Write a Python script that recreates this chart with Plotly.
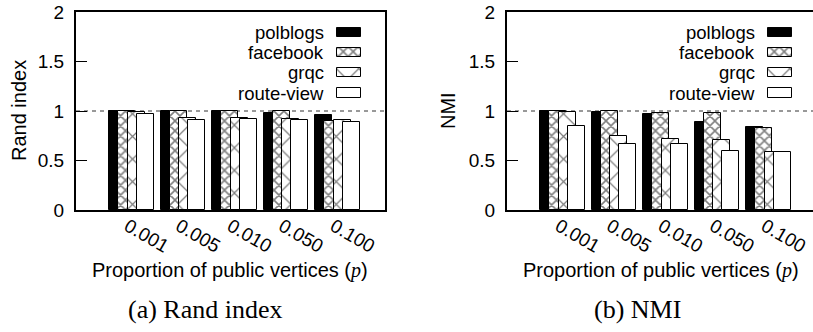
import plotly.graph_objects as go

# proportion of public vertices p
categories = ["0.001", "0.005", "0.010", "0.050", "0.100"]
series_names = ["polblogs", "facebook", "grqc", "route-view"]

# Rand index per dataset
rand_polblogs = [1.00, 1.00, 1.00, 0.98, 0.96]
rand_facebook = [1.00, 1.00, 1.00, 1.00, 0.90]
rand_grqc = [0.99, 0.93, 0.93, 0.92, 0.91]
rand_route_view = [0.97, 0.91, 0.915, 0.91, 0.89]

# NMI per dataset
nmi_polblogs = [1.00, 0.99, 0.97, 0.89, 0.84]
nmi_facebook = [1.00, 1.00, 0.98, 0.98, 0.83]
nmi_grqc = [0.99, 0.75, 0.72, 0.71, 0.585]
nmi_route_view = [0.845, 0.67, 0.665, 0.60, 0.59]

W, H = 813, 332
FONT = "Liberation Sans, Arial, sans-serif"
SERIF = "Liberation Serif, Times New Roman, serif"


def fx(p):
    return p / W


def fy(p):
    return 1 - p / H


# fill styles: solid black, dense cross-hatch, sparse cross-hatch, empty
styles = [
    dict(color="black", pattern=dict(shape="")),
    dict(color="white", pattern=dict(shape="x", size=7, solidity=0.4,
                                     fgcolor="black", bgcolor="white", fillmode="overlay")),
    dict(color="white", pattern=dict(shape="x", size=16, solidity=0.15,
                                     fgcolor="black", bgcolor="white", fillmode="overlay")),
    dict(color="white", pattern=dict(shape="")),
]

BAR_W = 0.33
STEP = 0.175
START = -0.35

fig = go.Figure()
x_idx = list(range(len(categories)))

panels = [
    ("x", "y", [rand_polblogs, rand_facebook, rand_grqc, rand_route_view]),
    ("x2", "y2", [nmi_polblogs, nmi_facebook, nmi_grqc, nmi_route_view]),
]
for xa, ya, data in panels:
    for k, (name, vals) in enumerate(zip(series_names, data)):
        st = styles[k]
        fig.add_trace(go.Bar(
            x=x_idx, y=vals, name=name, xaxis=xa, yaxis=ya,
            offset=START + k * STEP, width=BAR_W,
            marker=dict(color=st["color"], pattern=st["pattern"],
                        line=dict(color="black", width=1)),
            showlegend=False, hoverinfo="skip",
        ))

# key boxes drawn on helper axes measured in pixels from the panel's top-left
KEY_X = 273
KEY_W = 24
KEY_H = 9.5
KEY_ROWS = [20.3, 40.3, 60.6, 81.0]
KEY_TEXT_X = 250
for xa, ya in [("x3", "y3"), ("x4", "y4")]:
    for k, name in enumerate(series_names):
        st = styles[k]
        fig.add_trace(go.Bar(
            x=[KEY_X], y=[KEY_H], base=[KEY_ROWS[k] - KEY_H / 2], width=[KEY_W],
            xaxis=xa, yaxis=ya,
            marker=dict(color=st["color"], pattern=st["pattern"],
                        line=dict(color="black", width=1)),
            showlegend=False, hoverinfo="skip",
        ))
        fig.add_annotation(
            x=KEY_TEXT_X, y=KEY_ROWS[k], xref=xa, yref=ya,
            text=name, showarrow=False, xanchor="right", yanchor="middle",
            font=dict(family=FONT, size=18.5, color="black"),
        )

left_dom = [fx(76), fx(385)]
right_dom = [fx(507), 1.0]
y_dom = [fy(210), fy(12)]
px_per_unit = (385 - 76) / 6.0
right_end = -1 + (813 - 507) / px_per_unit

xaxis_common = dict(
    tickvals=x_idx, ticktext=categories, tickangle=30, ticks="",
    showline=True, linecolor="black", linewidth=2, showgrid=False, zeroline=False,
    automargin=False, ticklabelstandoff=-4,
    tickfont=dict(family=FONT, size=19, color="black"),
)
yaxis_common = dict(
    range=[0, 2], dtick=0.5, tick0=0, ticks="inside", ticklen=11, tickwidth=1,
    tickcolor="black", showline=True, linecolor="black", linewidth=2,
    showgrid=False, zeroline=False, ticklabelstandoff=6, automargin=False,
    tickfont=dict(family=FONT, size=19, color="black"),
)
helper = dict(visible=False, automargin=False, fixedrange=True)

fig.update_layout(
    width=W, height=H, autosize=False,
    margin=dict(l=0, r=0, t=0, b=0, pad=0, autoexpand=False),
    paper_bgcolor="white", plot_bgcolor="rgba(0,0,0,0)",
    barmode="overlay", bargap=0,
    font=dict(family=FONT, size=19, color="black"),
    xaxis=dict(domain=left_dom, range=[-1, 5], mirror=True, anchor="y", **xaxis_common),
    yaxis=dict(domain=y_dom, mirror=True, anchor="x", **yaxis_common),
    xaxis2=dict(domain=right_dom, range=[-1, right_end], mirror=True, anchor="y2", **xaxis_common),
    yaxis2=dict(domain=y_dom, mirror=False, anchor="x2", **yaxis_common),
    xaxis3=dict(domain=left_dom, range=[0, 309], anchor="y3", **helper),
    yaxis3=dict(domain=y_dom, range=[198, 0], anchor="x3", **helper),
    xaxis4=dict(domain=right_dom, range=[0, 306], anchor="y4", **helper),
    yaxis4=dict(domain=y_dom, range=[198, 0], anchor="x4", **helper),
)

# dashed reference line at 1
for xa, ya in [("x", "y"), ("x2", "y2")]:
    fig.add_shape(type="line", xref=f"{xa} domain", yref=ya, x0=0, x1=1, y0=1, y1=1,
                  line=dict(color="#333333", width=1, dash="4px,4px"), layer="below")

xtitle = ("Proportion of public vertices (<span style='font-family:Liberation Serif'>"
          "<i>p</i></span>)")
texts = [
    dict(x=fx(19), y=fy(111), text="Rand index", textangle=-90, size=20, fam=FONT),
    dict(x=fx(448), y=fy(111), text="NMI", textangle=-90, size=20, fam=FONT),
    dict(x=fx(230), y=fy(270), text=xtitle, textangle=0, size=20, fam=FONT),
    dict(x=fx(661), y=fy(270), text=xtitle, textangle=0, size=20, fam=FONT),
    dict(x=fx(205), y=fy(309), text="(a) Rand index", textangle=0, size=26, fam=SERIF),
    dict(x=fx(637), y=fy(309), text="(b) NMI", textangle=0, size=26, fam=SERIF),
]
for t in texts:
    fig.add_annotation(x=t["x"], y=t["y"], xref="paper", yref="paper", text=t["text"],
                       textangle=t["textangle"], showarrow=False,
                       xanchor="center", yanchor="middle",
                       font=dict(family=t["fam"], size=t["size"], color="black"))

fig.write_html("out.html")
